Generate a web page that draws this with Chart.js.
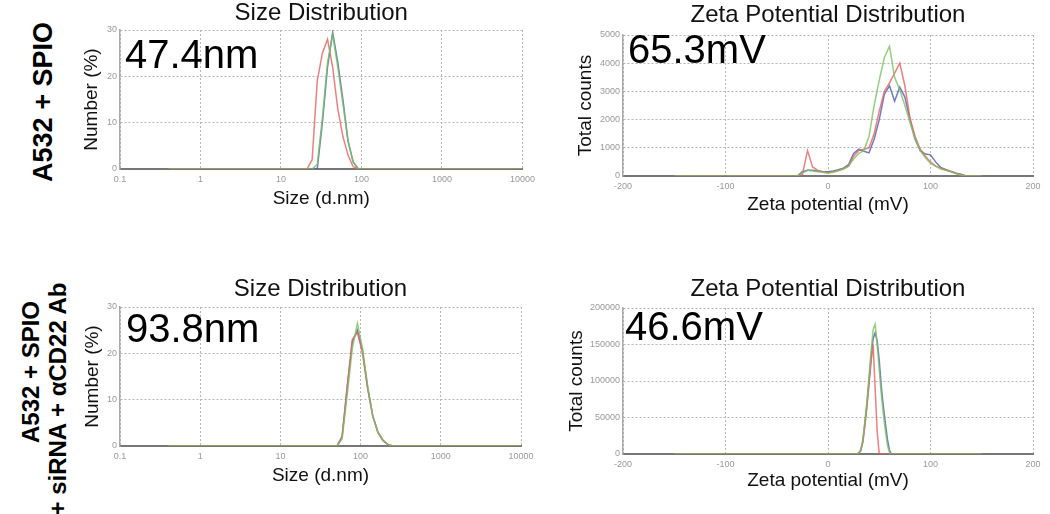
<!DOCTYPE html>
<html>
<head>
<meta charset="utf-8">
<script src="https://cdn.jsdelivr.net/npm/chart.js@4.4.1/dist/chart.umd.min.js"></script>
<style>
  body { margin: 0; background: #fff; width: 1050px; height: 514px; position: relative; overflow: hidden;
         font-family: "Liberation Sans", Arial, sans-serif; }
  .panel { position: absolute; }
  .row-label { position: absolute; font-weight: bold; white-space: nowrap; text-align: center;
               transform: translate(-50%, -50%) rotate(-90deg); color: #000; }
</style>
</head>
<body>
<div class="row-label" style="left:43px; top:102px; font-size:27px;">A532 + SPIO</div>
<div class="row-label" style="left:31px; top:372px; font-size:24px;">A532 + SPIO</div>
<div class="row-label" style="left:58px; top:399px; font-size:24px;">+ siRNA + αCD22 Ab</div>

<div class="panel" style="left:60px; top:0px; width:480px; height:214px;"><canvas id="sizeTop"></canvas></div>
<div class="panel" style="left:560px; top:0px; width:490px; height:220px;"><canvas id="zetaTop"></canvas></div>
<div class="panel" style="left:60px; top:270px; width:480px; height:230px;"><canvas id="sizeBot"></canvas></div>
<div class="panel" style="left:555px; top:270px; width:495px; height:230px;"><canvas id="zetaBot"></canvas></div>

<script>
// tick labels
const SIZE_TICKS = [0.1, 1, 10, 100, 1000, 10000];
const ZETA_TICKS = [-200, -100, 0, 100, 200];

// A532 + SPIO, size distribution (d.nm vs number %)
const sizeTopX = [0.4, 21.04, 24.36, 28.21, 32.67, 37.84, 43.82, 50.75, 58.77, 68.06, 78.82, 91.28, 105.7, 10000];
const sizeTopRed = [0, 0, 2, 19, 25, 28, 22, 13, 7, 3, 0.5, 0, 0, 0];
const sizeTopGreen = [0, 0, 0, 1, 11, 23, 29, 22, 14, 6, 1.5, 0, 0, 0];
const sizeTopBlue = [0, 0, 0, 0, 10, 22, 29.5, 23, 15, 6, 1.5, 0, 0, 0];

// A532 + SPIO, zeta potential (mV vs total counts)
const zetaTopX = [-150, -30, -25, -20, -15, -10, -5, 0, 5, 10, 15, 20, 25, 30, 35, 40, 45, 50, 55, 60,
                  65, 70, 75, 80, 85, 90, 95, 100, 105, 110, 115, 120, 125, 130, 135, 140, 150];
const zetaTopRed = [0, 0, 50, 900, 320, 200, 150, 120, 150, 200, 250, 350, 700, 900, 950, 1000, 1500, 2300, 3000, 3300,
                    3650, 4000, 3200, 2050, 1400, 950, 700, 500, 350, 280, 220, 160, 100, 50, 0, 0, 0];
const zetaTopGreen = [0, 0, 100, 200, 180, 150, 130, 100, 130, 180, 250, 350, 600, 800, 900, 1400, 2500, 3400, 4200, 4600,
                      3500, 3050, 2500, 1900, 1300, 900, 650, 450, 350, 250, 200, 150, 80, 30, 0, 0, 0];
const zetaTopBlue = [0, 0, 150, 200, 200, 180, 150, 150, 180, 220, 280, 400, 800, 950, 880, 820, 1300, 2000, 2900, 3200,
                     2650, 3150, 2800, 2000, 1300, 900, 780, 750, 500, 300, 220, 160, 100, 50, 0, 0, 0];

// A532 + SPIO + siRNA + aCD22 Ab, size distribution
const sizeBotX = [0.4, 43.82, 50.75, 58.77, 68.06, 78.82, 91.28, 105.7, 122.4, 141.8, 164.2, 190.1, 220.2, 255.0, 10000];
const sizeBotRed = [0, 0, 0, 2, 13, 23, 24.5, 20, 12.5, 6.5, 3, 1.2, 0.3, 0, 0];
const sizeBotGreen = [0, 0, 0, 1.5, 11, 21, 26.5, 21, 13, 6.5, 3, 1.2, 0.3, 0, 0];
const sizeBotBlue = [0, 0, 0, 2, 12.5, 22.5, 25, 20.5, 12.5, 6.5, 3, 1.2, 0.3, 0, 0];

// A532 + SPIO + siRNA + aCD22 Ab, zeta potential
const zetaBotX = [-150, 28, 30, 32, 34, 36, 38, 40, 42, 44, 46, 48, 50, 52, 54, 56, 58, 60, 62, 150];
const zetaBotRed = [0, 0, 1000, 5000, 16000, 38000, 65000, 95000, 125000, 150000, 90000, 30000, 0, 0, 0, 0, 0, 0, 0, 0];
const zetaBotGreen = [0, 0, 1500, 6000, 20000, 45000, 72000, 105000, 140000, 170000, 178000, 150000, 115000, 82000, 55000, 32000, 12000, 2000, 0, 0];
const zetaBotBlue = [0, 0, 1000, 5000, 18000, 42000, 68000, 100000, 132000, 158000, 166000, 155000, 128000, 92000, 65000, 42000, 20000, 5000, 0, 0];

const FONT = '"Liberation Sans", Arial, sans-serif';
Chart.defaults.font.family = FONT;
Chart.defaults.color = '#111';

const RED = 'rgba(235, 95, 95, 0.8)';
const GREEN = 'rgba(120, 195, 95, 0.8)';
const BLUE = 'rgba(75, 90, 175, 0.8)';

// draws the big value in the top left corner of the plot
const bigLabel = {
  id: 'bigLabel',
  afterDraw(chart, args, opts) {
    const ctx = chart.ctx;
    const area = chart.chartArea;
    ctx.save();
    ctx.font = '40px ' + FONT;
    ctx.fillStyle = '#000';
    ctx.textBaseline = 'alphabetic';
    ctx.fillText(opts.text, area.left + opts.dx, area.top + opts.dy);
    ctx.restore();
  }
};

function series(xs, ys, color) {
  return {
    data: xs.map((x, i) => ({ x: x, y: ys[i] })),
    borderColor: color,
    borderWidth: 1.5,
    pointRadius: 0,
    fill: false,
    tension: 0
  };
}

function drawPanel(id, cfg) {
  const isSize = cfg.kind === 'size';
  const xScale = isSize ? {
    type: 'logarithmic', min: 0.1, max: 10000,
    afterBuildTicks: axis => { axis.ticks = SIZE_TICKS.map(v => ({ value: v })); }
  } : {
    type: 'linear', min: -200, max: 200,
    afterBuildTicks: axis => { axis.ticks = ZETA_TICKS.map(v => ({ value: v })); }
  };

  Object.assign(xScale, {
    ticks: { callback: v => String(v), font: { size: 9 }, color: '#999', padding: 5, autoSkip: false, maxRotation: 0 },
    grid: { color: '#b5b5b5', drawTicks: false },
    border: { color: '#777', width: 2, dash: [2, 2] },
    title: { display: true, text: isSize ? 'Size (d.nm)' : 'Zeta potential (mV)', font: { size: 19 }, color: '#111',
             padding: { top: 0, bottom: cfg.xTitlePad } },
    afterFit: s => { s.height = cfg.xHeight; }
  });

  new Chart(document.getElementById(id), {
    type: 'line',
    data: {
      datasets: [
        series(cfg.x, cfg.green, GREEN),
        series(cfg.x, cfg.red, RED),
        series(cfg.x, cfg.blue, BLUE)
      ]
    },
    plugins: [bigLabel],
    options: {
      responsive: true,
      maintainAspectRatio: false,
      animation: false,
      layout: { padding: { left: 0, right: cfg.right, top: 0, bottom: 0 } },
      plugins: {
        legend: { display: false },
        tooltip: { enabled: false },
        title: { display: true, text: isSize ? 'Size Distribution' : 'Zeta Potential Distribution', fullSize: false,
                 font: { size: 24, weight: 'normal', lineHeight: 1 }, color: '#111', padding: cfg.titlePad },
        bigLabel: { text: cfg.label, dx: cfg.dx, dy: cfg.dy }
      },
      scales: {
        x: xScale,
        y: {
          type: 'linear', min: 0, max: cfg.yMax,
          ticks: { stepSize: cfg.yStep, callback: v => String(v), font: { size: 9 }, color: '#999', padding: 3 },
          grid: { color: '#b5b5b5', drawTicks: false },
          border: { color: '#aaa', width: 1.5, dash: [2, 2] },
          title: { display: true, text: isSize ? 'Number (%)' : 'Total counts', font: { size: 19 }, color: '#111',
                   padding: { top: cfg.yTitlePad, bottom: 0 } },
          afterFit: s => { s.width = cfg.yWidth; }
        }
      }
    }
  });
}

drawPanel('sizeTop', {
  kind: 'size', x: sizeTopX, red: sizeTopRed, green: sizeTopGreen, blue: sizeTopBlue,
  yMax: 30, yStep: 10, label: '47.4nm', dx: 5, dy: 38,
  right: 16, titlePad: { top: 1, bottom: 5 }, yWidth: 60, xHeight: 45, xTitlePad: 4, yTitlePad: 20
});

drawPanel('zetaTop', {
  kind: 'zeta', x: zetaTopX, red: zetaTopRed, green: zetaTopGreen, blue: zetaTopBlue,
  yMax: 5000, yStep: 1000, label: '65.3mV', dx: 5, dy: 28,
  right: 17, titlePad: { top: 3, bottom: 8 }, yWidth: 63, xHeight: 44, xTitlePad: 4, yTitlePad: 14
});

drawPanel('sizeBot', {
  kind: 'size', x: sizeBotX, red: sizeBotRed, green: sizeBotGreen, blue: sizeBotBlue,
  yMax: 30, yStep: 10, label: '93.8nm', dx: 6, dy: 35,
  right: 19, titlePad: { top: 7, bottom: 6 }, yWidth: 60, xHeight: 54, xTitlePad: 13, yTitlePad: 21
});

drawPanel('zetaBot', {
  kind: 'zeta', x: zetaBotX, red: zetaBotRed, green: zetaBotGreen, blue: zetaBotBlue,
  yMax: 200000, yStep: 50000, label: '46.6mV', dx: 2, dy: 32,
  right: 17, titlePad: { top: 7, bottom: 7 }, yWidth: 68, xHeight: 46, xTitlePad: 8, yTitlePad: 10
});
</script>
</body>
</html>
